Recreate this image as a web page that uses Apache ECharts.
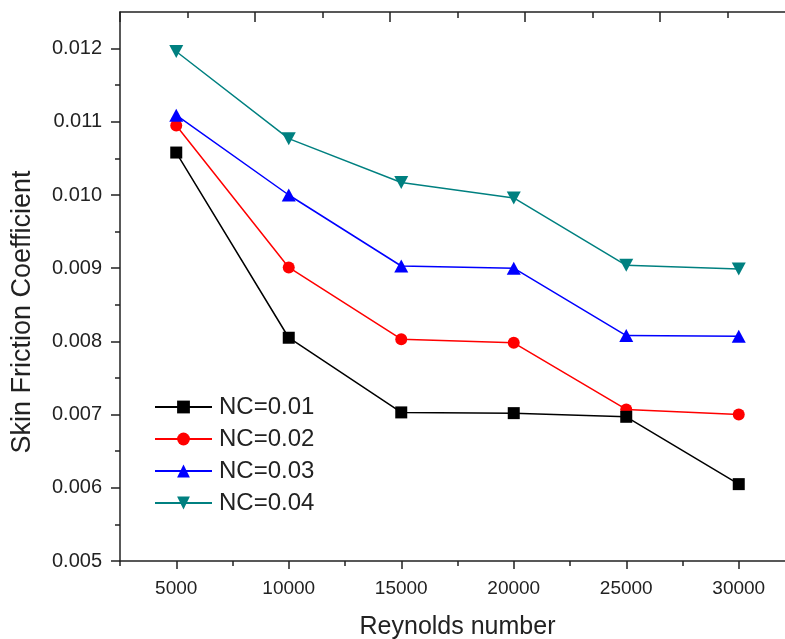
<!DOCTYPE html>
<html>
<head>
<meta charset="utf-8">
<script src="https://cdn.jsdelivr.net/npm/echarts@6/dist/echarts.min.js"></script>
<style>
  html, body { margin: 0; padding: 0; background: #fff; overflow: hidden; }
  #chart { width: 785px; height: 639px; }
</style>
</head>
<body>
<div id="chart"></div>
<script>
// Reynolds numbers on the x axis
const reynolds = [5000, 10000, 15000, 20000, 25000, 30000];

// Skin friction coefficient for each nanoparticle concentration
const nc001 = [0.01058, 0.00805, 0.00703, 0.00702, 0.00697, 0.00605];
const nc002 = [0.01095, 0.00901, 0.00803, 0.00798, 0.00707, 0.00700];
const nc003 = [0.01109, 0.01000, 0.00903, 0.00900, 0.00808, 0.00807];
const nc004 = [0.01196, 0.01077, 0.01017, 0.00996, 0.00904, 0.00899];

const seriesNames = ['NC=0.01', 'NC=0.02', 'NC=0.03', 'NC=0.04'];

// Tick values
const xMajorTicks = [5000, 10000, 15000, 20000, 25000, 30000];
const xMinorTicks = [2500, 7500, 12500, 17500, 22500, 27500];
const topMajorTicks = [2500, 8500, 14500, 20500, 26500, 32500];
const topMinorTicks = [5500, 11500, 17500, 23500, 29500];
const yMajorTicks = [0.005, 0.006, 0.007, 0.008, 0.009, 0.010, 0.011, 0.012];
const yMinorTicks = [0.0055, 0.0065, 0.0075, 0.0085, 0.0095, 0.0105, 0.0115];

const FONT = '"Liberation Sans", Arial, sans-serif';
const AXIS_COLOR = '#222';
const TEXT_COLOR = '#222';

const pairs = vals => reynolds.map((x, i) => [x, vals[i]]);

const chart = echarts.init(document.getElementById('chart'), null, { renderer: 'canvas' });

const X_MIN = 2500, X_MAX = 32500;
const Y_MIN = 0.005, Y_MAX = 0.0125;

const hiddenLabel = { show: false };

chart.setOption({
  backgroundColor: '#fff',
  animation: false,
  grid: {
    left: 120, top: 12, width: 675, height: 549,
    containLabel: false, outerBoundsMode: 'none'
  },
  legend: {
    orient: 'vertical',
    left: 154,
    top: 395,
    padding: 0,
    itemWidth: 57,
    itemHeight: 16,
    itemGap: 8,
    data: seriesNames,
    textStyle: { fontFamily: FONT, fontSize: 24, color: TEXT_COLOR, lineHeight: 24, padding: [0, 0, 0, 2] }
  },
  xAxis: [
    {
      type: 'value', position: 'bottom', min: X_MIN, max: X_MAX,
      axisLine: { show: true, onZero: false, lineStyle: { color: AXIS_COLOR, width: 1.5 } },
      axisTick: { show: true, inside: false, length: 8, customValues: xMajorTicks, lineStyle: { color: AXIS_COLOR, width: 1.5 } },
      axisLabel: {
        show: true, customValues: xMajorTicks, margin: 18,
        fontFamily: FONT, fontSize: 19, color: TEXT_COLOR,
        formatter: v => String(v)
      },
      splitLine: { show: false },
      name: 'Reynolds number', nameLocation: 'middle', nameGap: 54,
      nameTextStyle: { fontFamily: FONT, fontSize: 25, color: TEXT_COLOR }
    },
    {
      type: 'value', position: 'bottom', min: X_MIN, max: X_MAX,
      axisLine: { show: false, onZero: false },
      axisTick: { show: true, inside: false, length: 5, customValues: xMinorTicks, lineStyle: { color: AXIS_COLOR, width: 1.5 } },
      axisLabel: hiddenLabel, splitLine: { show: false }
    },
    {
      type: 'value', position: 'top', min: X_MIN, max: X_MAX,
      axisLine: { show: true, onZero: false, lineStyle: { color: AXIS_COLOR, width: 1.5 } },
      axisTick: { show: true, inside: true, length: 10, customValues: topMajorTicks, lineStyle: { color: AXIS_COLOR, width: 1.5 } },
      axisLabel: hiddenLabel, splitLine: { show: false }
    },
    {
      type: 'value', position: 'top', min: X_MIN, max: X_MAX,
      axisLine: { show: false, onZero: false },
      axisTick: { show: true, inside: true, length: 6, customValues: topMinorTicks, lineStyle: { color: AXIS_COLOR, width: 1.5 } },
      axisLabel: hiddenLabel, splitLine: { show: false }
    }
  ],
  yAxis: [
    {
      type: 'value', position: 'left', min: Y_MIN, max: Y_MAX,
      axisLine: { show: true, onZero: false, lineStyle: { color: AXIS_COLOR, width: 1.5 } },
      axisTick: { show: true, inside: false, length: 9, customValues: yMajorTicks, lineStyle: { color: AXIS_COLOR, width: 1.5 } },
      axisLabel: {
        show: true, customValues: yMajorTicks, margin: 18,
        fontFamily: FONT, fontSize: 20, color: TEXT_COLOR,
        formatter: v => v.toFixed(3)
      },
      splitLine: { show: false }
    },
    {
      type: 'value', position: 'left', min: Y_MIN, max: Y_MAX,
      axisLine: { show: false, onZero: false },
      axisTick: { show: true, inside: false, length: 5, customValues: yMinorTicks, lineStyle: { color: AXIS_COLOR, width: 1.5 } },
      axisLabel: hiddenLabel, splitLine: { show: false }
    }
  ],
  graphic: [
    {
      type: 'text',
      x: 23, y: 312,
      rotation: Math.PI / 2,
      style: {
        text: 'Skin Friction Coefficient',
        fontFamily: FONT, fontSize: 27, fill: TEXT_COLOR,
        align: 'center', verticalAlign: 'middle'
      }
    }
  ],
  series: [
    {
      name: seriesNames[0], type: 'line', data: pairs(nc001),
      xAxisIndex: 0, yAxisIndex: 0,
      symbol: 'rect', symbolSize: 12,
      itemStyle: { color: '#000000' },
      lineStyle: { color: '#000000', width: 1.5 },
      z: 4
    },
    {
      name: seriesNames[1], type: 'line', data: pairs(nc002),
      xAxisIndex: 0, yAxisIndex: 0,
      symbol: 'circle', symbolSize: 12,
      itemStyle: { color: '#ff0000' },
      lineStyle: { color: '#ff0000', width: 1.5 },
      z: 3
    },
    {
      name: seriesNames[2], type: 'line', data: pairs(nc003),
      xAxisIndex: 0, yAxisIndex: 0,
      symbol: 'triangle', symbolSize: [14, 13],
      itemStyle: { color: '#0000ff' },
      lineStyle: { color: '#0000ff', width: 1.5 },
      z: 5
    },
    {
      name: seriesNames[3], type: 'line', data: pairs(nc004),
      xAxisIndex: 0, yAxisIndex: 0,
      symbol: 'triangle', symbolRotate: 180, symbolSize: [14, 13],
      itemStyle: { color: '#008080' },
      lineStyle: { color: '#008080', width: 1.5 },
      z: 2
    }
  ]
});
</script>
</body>
</html>
